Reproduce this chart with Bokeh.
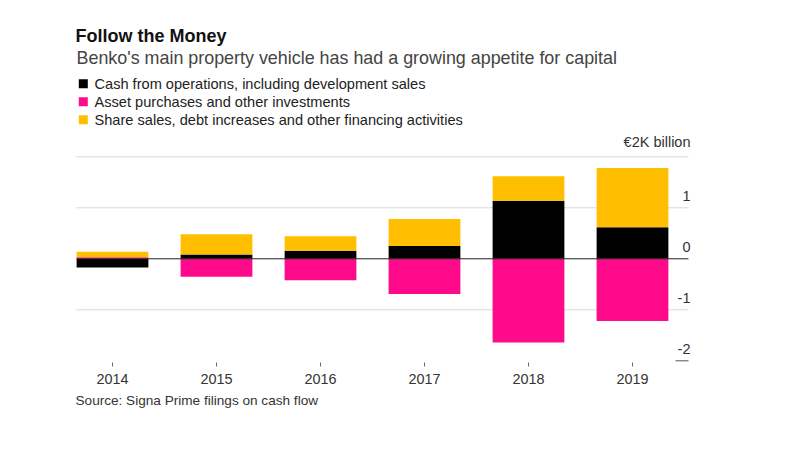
import numpy as np
from bokeh.plotting import figure
from bokeh.models import Range1d, FixedTicker, ColumnDataSource, Title
from bokeh.core.properties import value
from bokeh.embed import file_html
from bokeh.resources import INLINE

years = ["2014", "2015", "2016", "2017", "2018", "2019"]
operations = [-0.17, 0.085, 0.16, 0.25, 1.14, 0.62]
investments = [0.03, -0.35, -0.42, -0.69, -1.64, -1.22]
financing = [0.11, 0.395, 0.28, 0.53, 0.48, 1.16]

series_names = ["Cash from operations, including development sales",
                "Asset purchases and other investments",
                "Share sales, debt increases and other financing activities"]
series_colors = ["#000000", "#FF0A8A", "#FFBF00"]

y_ticks = [2, 1, 0, -1, -2]
y_tick_labels = ["€2K billion", "1", "0", "-1", "-2"]

FONT = "Liberation Sans"

W, H = 784, 436
FL, FR, FT, FB = 70, 692, 0, 362          # frame edges in canvas px
X_C0, X_STEP = 112, 104                     # px of first category, px per category
Y_ZERO, Y_UNIT = 258.3, 51.0                # px of zero, px per unit

def dx(px):
    return (px - X_C0) / X_STEP

def dy(py):
    return (Y_ZERO - py) / Y_UNIT

x = np.arange(len(years))

p = figure(width=W, height=H, output_backend="svg", toolbar_location=None, title=None,
           x_range=Range1d(dx(FL), dx(FR)), y_range=Range1d(dy(FB), dy(FT)),
           y_axis_location=None, min_border_left=FL, min_border_right=W - FR,
           min_border_top=FT, min_border_bottom=H - FB)
p.outline_line_color = None
p.grid.visible = False

# gridlines (drawn only across the chart body)
g_left, g_right = dx(76), dx(688)
grid_vals = [t for t in y_ticks if t not in (0, -2)]
p.segment(x0=[g_left] * len(grid_vals), x1=[g_right] * len(grid_vals),
          y0=grid_vals, y1=grid_vals, line_color="#d9d9d9", line_width=1)
p.segment(x0=[dx(675)], x1=[g_right], y0=[-2], y1=[-2], line_color="#555555", line_width=1)

# stacked bars
vals = [np.array(operations), np.array(investments), np.array(financing)]
pos_base = np.zeros(len(years))
neg_base = np.zeros(len(years))
for v, c in zip(vals, series_colors):
    pos = np.where(v > 0, v, 0)
    neg = np.where(v < 0, v, 0)
    p.vbar(x=x, width=0.69, bottom=pos_base, top=pos_base + pos, fill_color=c, line_color=None)
    p.vbar(x=x, width=0.69, bottom=neg_base, top=neg_base + neg, fill_color=c, line_color=None)
    pos_base = pos_base + pos
    neg_base = neg_base + neg

# zero line
p.segment(x0=[g_left], x1=[g_right], y0=[0], y1=[0], line_color="#222222", line_width=1)

# right-side y labels
src = ColumnDataSource(dict(x=[dx(690)] * len(y_ticks), y=y_ticks, t=y_tick_labels))
p.text(x="x", y="y", text="t", source=src, text_align="right", text_baseline="bottom",
       y_offset=-7, text_font=value(FONT), text_font_size="14.5px", text_color="#333333")

# heading, subtitle and legend
def txt(t, px, py, size, color, style="normal"):
    p.text(x=[dx(px)], y=[dy(py)], text=[t], text_font=value(FONT), text_font_size=size,
           text_color=color, text_font_style=value(style), text_baseline="middle",
           text_align="left")

txt("Follow the Money", 75, 35, "18px", "#111111", "bold")
txt("Benko's main property vehicle has had a growing appetite for capital", 76, 57, "17.9px", "#444444")
for i, (nm, c) in enumerate(zip(series_names, series_colors)):
    cy = 83.3 + i * 18.0
    p.scatter(x=[dx(82.8)], y=[dy(cy)], marker="square", size=9, fill_color=c, line_color=None)
    txt(nm, 94, cy, "14.6px", "#222222")

# x axis
ax = p.xaxis[0]
ax.ticker = FixedTicker(ticks=list(x))
ax.major_label_overrides = {int(i): y for i, y in zip(x, years)}
ax.axis_line_color = None
ax.major_tick_line_color = "#666666"
ax.major_tick_out = 4
ax.major_tick_in = 0
ax.minor_tick_line_color = None
ax.major_label_standoff = 7
ax.major_label_text_font = FONT
ax.major_label_text_font_size = "14.4px"
ax.major_label_text_color = "#333333"

# source line
p.add_layout(Title(text="Source: Signa Prime filings on cash flow", align="left", offset=5,
                   text_font=FONT, text_font_size="13.6px", text_font_style="normal",
                   text_color="#333333", standoff=9), "below")

open("out.html", "w").write(file_html(p, INLINE))
